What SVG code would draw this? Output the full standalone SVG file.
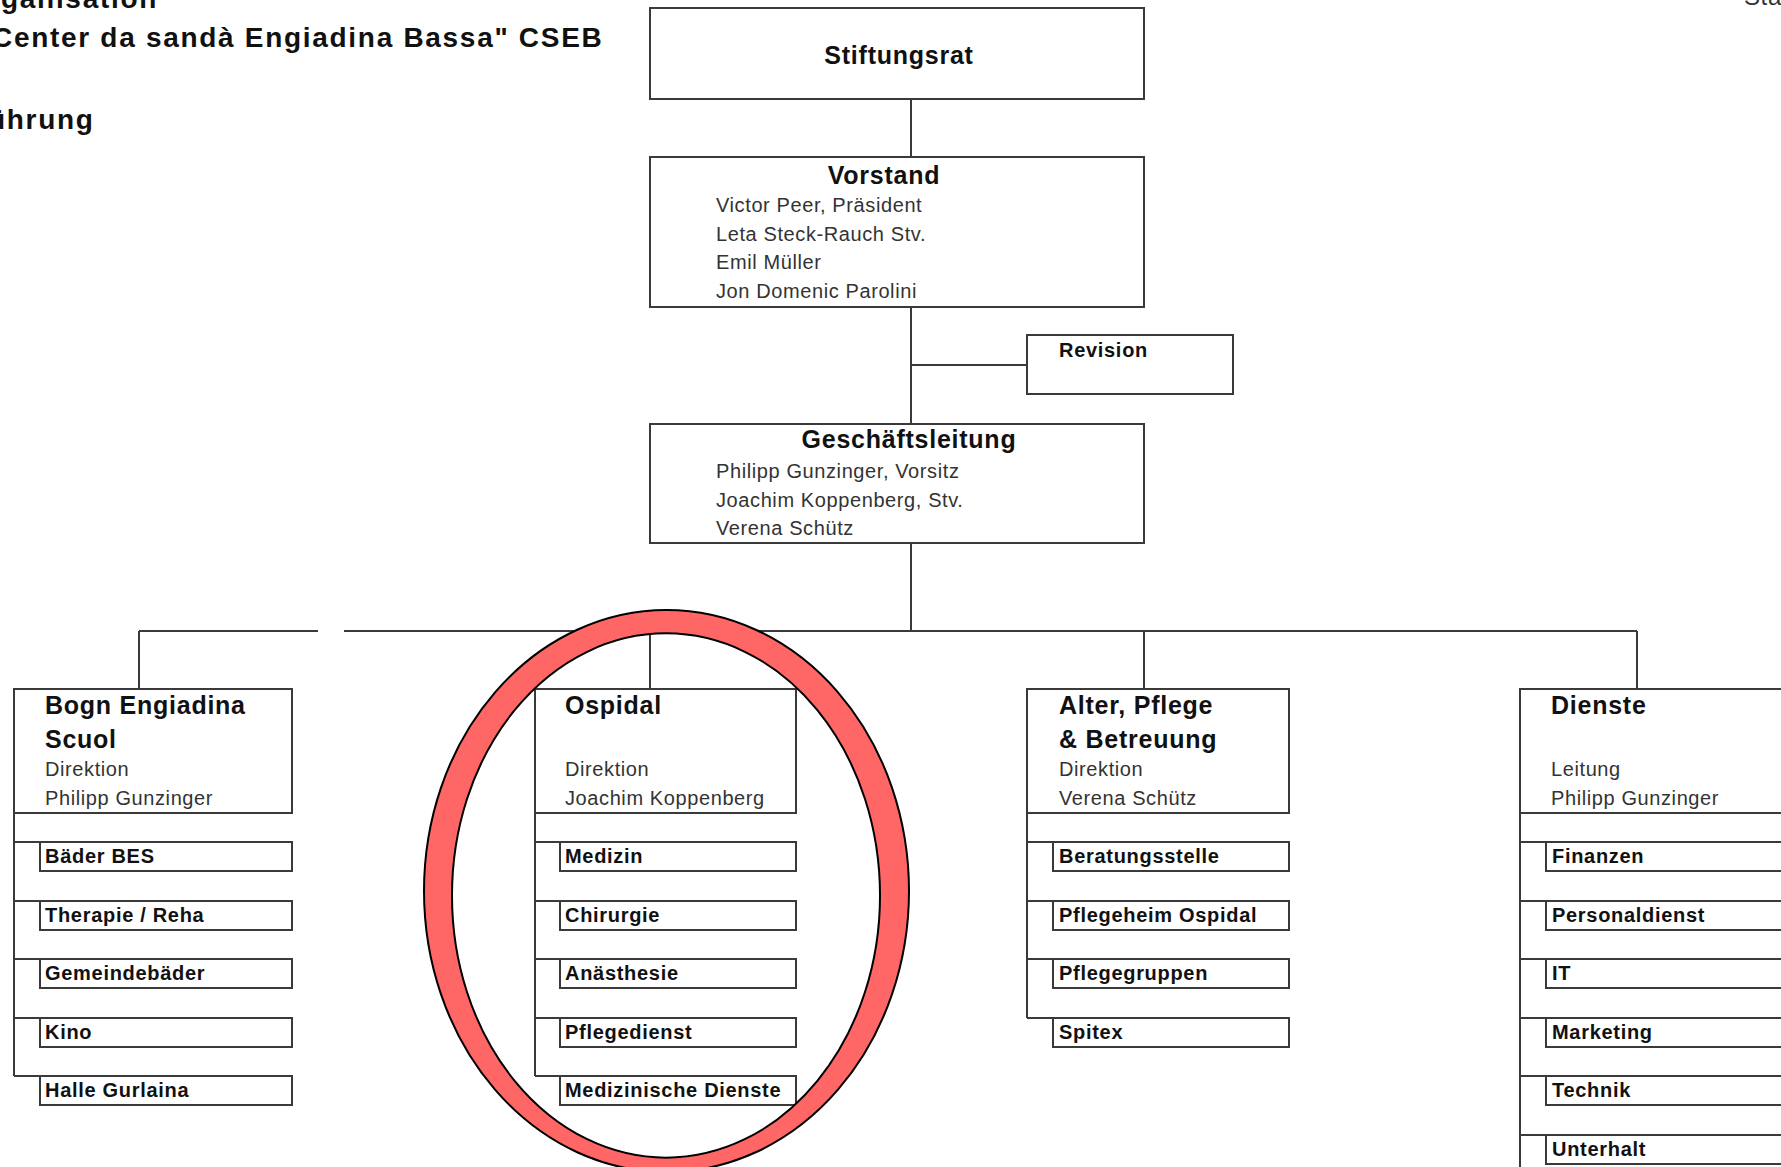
<svg xmlns="http://www.w3.org/2000/svg" width="1781" height="1167" viewBox="0 0 1781 1167">
<style>
.box{fill:#fff;stroke:#3a3a3a;stroke-width:2}
.ln{stroke:#3a3a3a;stroke-width:2;fill:none}
.h{font-family:"Liberation Sans",Arial,sans-serif;font-weight:bold;font-size:28px;letter-spacing:1.7px;fill:#111}
.t{font-family:"Liberation Sans",Arial,sans-serif;font-weight:bold;font-size:25px;letter-spacing:0.75px;fill:#111}
.n{font-family:"Liberation Sans",Arial,sans-serif;font-size:20px;letter-spacing:0.6px;fill:#333}
.s{font-family:"Liberation Sans",Arial,sans-serif;font-weight:bold;font-size:20px;letter-spacing:0.7px;fill:#111}
.ring{fill:#ff6666;fill-rule:evenodd;stroke:#000;stroke-width:2}
</style>
<rect width="1781" height="1167" fill="#fff"/>
<g id="header">
<text class="h" x="1" y="8">ganisation</text>
<text class="h" x="-8" y="47">Center da sandà Engiadina Bassa" CSEB</text>
<text class="h" x="-12" y="129">ührung</text>
<text class="n" x="1744" y="5" style="font-size:24px">Sta</text>
</g>
<g id="connectors">
<path class="ln" d="M911,99V157 M911,307V424 M911,365H1027 M911,543V631 M139,631H318 M344,631H1637 M139,631V689 M650,631V689 M1144,631V689 M1637,631V689"/>
<path class="ln" d="M14,813V1076 M14,842H40 M14,901H40 M14,959H40 M14,1018H40 M14,1076H40"/>
<path class="ln" d="M535,813V1076 M535,842H560 M535,901H560 M535,959H560 M535,1018H560 M535,1076H560"/>
<path class="ln" d="M1027,813V1018 M1027,842H1053 M1027,901H1053 M1027,959H1053 M1027,1018H1053"/>
<path class="ln" d="M1520,813V1170 M1520,842H1546 M1520,901H1546 M1520,959H1546 M1520,1018H1546 M1520,1076H1546 M1520,1135H1546"/>
</g>
<g id="stiftungsrat">
<rect class="box" x="650" y="8" width="494" height="91"/>
<text class="t" x="899" y="64" text-anchor="middle">Stiftungsrat</text>
</g>
<g id="vorstand">
<rect class="box" x="650" y="157" width="494" height="150"/>
<text class="t" x="884" y="184" text-anchor="middle">Vorstand</text>
<text class="n" x="716" y="212">Victor Peer, Präsident</text>
<text class="n" x="716" y="241">Leta Steck-Rauch Stv.</text>
<text class="n" x="716" y="269">Emil Müller</text>
<text class="n" x="716" y="298">Jon Domenic Parolini</text>
</g>
<g id="revision">
<rect class="box" x="1027" y="335" width="206" height="59"/>
<text class="s" x="1059" y="357">Revision</text>
</g>
<g id="geschaeftsleitung">
<rect class="box" x="650" y="424" width="494" height="119"/>
<text class="t" x="909" y="448" text-anchor="middle">Geschäftsleitung</text>
<text class="n" x="716" y="478">Philipp Gunzinger, Vorsitz</text>
<text class="n" x="716" y="507">Joachim Koppenberg, Stv.</text>
<text class="n" x="716" y="535">Verena Schütz</text>
</g>
<g id="bogn">
<rect class="box" x="14" y="689" width="278" height="124"/>
<text class="t" x="45" y="714">Bogn Engiadina</text>
<text class="t" x="45" y="748">Scuol</text>
<text class="n" x="45" y="776">Direktion</text>
<text class="n" x="45" y="805">Philipp Gunzinger</text>
</g>
<g id="baeder"><rect class="box" x="40" y="842" width="252" height="29"/><text class="s" x="45" y="863">Bäder BES</text></g>
<g id="therapie"><rect class="box" x="40" y="901" width="252" height="29"/><text class="s" x="45" y="922">Therapie / Reha</text></g>
<g id="gemeindebaeder"><rect class="box" x="40" y="959" width="252" height="29"/><text class="s" x="45" y="980">Gemeindebäder</text></g>
<g id="kino"><rect class="box" x="40" y="1018" width="252" height="29"/><text class="s" x="45" y="1039">Kino</text></g>
<g id="halle"><rect class="box" x="40" y="1076" width="252" height="29"/><text class="s" x="45" y="1097">Halle Gurlaina</text></g>
<g id="ospidal">
<rect class="box" x="535" y="689" width="261" height="124"/>
<text class="t" x="565" y="714">Ospidal</text>
<text class="n" x="565" y="776">Direktion</text>
<text class="n" x="565" y="805">Joachim Koppenberg</text>
</g>
<g id="medizin"><rect class="box" x="560" y="842" width="236" height="29"/><text class="s" x="565" y="863">Medizin</text></g>
<g id="chirurgie"><rect class="box" x="560" y="901" width="236" height="29"/><text class="s" x="565" y="922">Chirurgie</text></g>
<g id="anaesthesie"><rect class="box" x="560" y="959" width="236" height="29"/><text class="s" x="565" y="980">Anästhesie</text></g>
<g id="pflegedienst"><rect class="box" x="560" y="1018" width="236" height="29"/><text class="s" x="565" y="1039">Pflegedienst</text></g>
<g id="med-dienste"><rect class="box" x="560" y="1076" width="236" height="29"/><text class="s" x="565" y="1097">Medizinische Dienste</text></g>
<g id="alter">
<rect class="box" x="1027" y="689" width="262" height="124"/>
<text class="t" x="1059" y="714">Alter, Pflege</text>
<text class="t" x="1059" y="748">&amp; Betreuung</text>
<text class="n" x="1059" y="776">Direktion</text>
<text class="n" x="1059" y="805">Verena Schütz</text>
</g>
<g id="beratung"><rect class="box" x="1053" y="842" width="236" height="29"/><text class="s" x="1059" y="863">Beratungsstelle</text></g>
<g id="pflegeheim"><rect class="box" x="1053" y="901" width="236" height="29"/><text class="s" x="1059" y="922">Pflegeheim Ospidal</text></g>
<g id="pflegegruppen"><rect class="box" x="1053" y="959" width="236" height="29"/><text class="s" x="1059" y="980">Pflegegruppen</text></g>
<g id="spitex"><rect class="box" x="1053" y="1018" width="236" height="29"/><text class="s" x="1059" y="1039">Spitex</text></g>
<g id="dienste">
<rect class="box" x="1520" y="689" width="290" height="124"/>
<text class="t" x="1551" y="714">Dienste</text>
<text class="n" x="1551" y="776">Leitung</text>
<text class="n" x="1551" y="805">Philipp Gunzinger</text>
</g>
<g id="finanzen"><rect class="box" x="1546" y="842" width="264" height="29"/><text class="s" x="1552" y="863">Finanzen</text></g>
<g id="personaldienst"><rect class="box" x="1546" y="901" width="264" height="29"/><text class="s" x="1552" y="922">Personaldienst</text></g>
<g id="it"><rect class="box" x="1546" y="959" width="264" height="29"/><text class="s" x="1552" y="980">IT</text></g>
<g id="marketing"><rect class="box" x="1546" y="1018" width="264" height="29"/><text class="s" x="1552" y="1039">Marketing</text></g>
<g id="technik"><rect class="box" x="1546" y="1076" width="264" height="29"/><text class="s" x="1552" y="1097">Technik</text></g>
<g id="unterhalt"><rect class="box" x="1546" y="1135" width="264" height="29"/><text class="s" x="1552" y="1156">Unterhalt</text></g>
<g id="highlight">
<path class="ring" d="M424,891a242.5,281 0 1,0 485,0a242.5,281 0 1,0 -485,0Z M452,895.5a214,262 0 1,0 428,0a214,262 0 1,0 -428,0Z"/>
</g>
</svg>
